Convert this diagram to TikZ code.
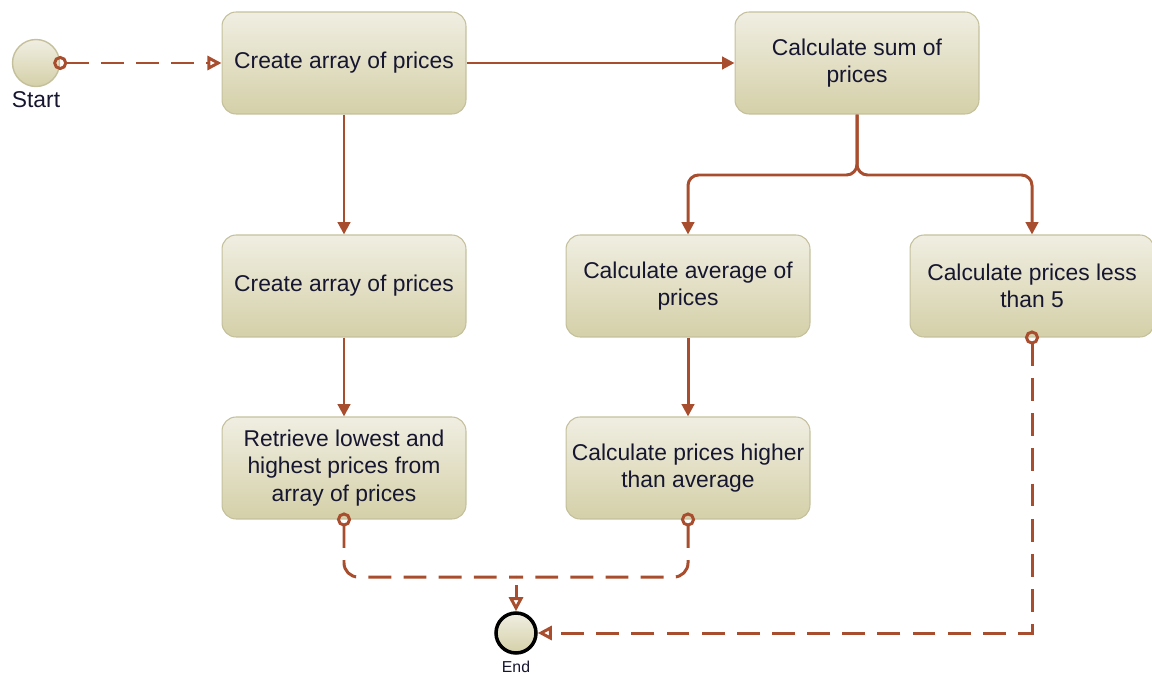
\documentclass[tikz,border=0pt]{standalone}
\usepackage{fontspec}
\setmainfont{Liberation Sans}
\usetikzlibrary{positioning,arrows.meta}

\definecolor{flowline}{RGB}{168,78,46}
\definecolor{boxtop}{RGB}{240,238,226}
\definecolor{boxbot}{RGB}{212,208,168}
\definecolor{boxrim}{RGB}{196,192,156}
\definecolor{boxtext}{RGB}{22,22,48}

\begin{document}
\begin{tikzpicture}[
  x=0.02cm, y=-0.02cm,
  font=\fontsize{13}{15.5}\selectfont,
  mybox/.style={draw=boxrim, line width=0.6pt, rounded corners=8pt,
    top color=boxtop, bottom color=boxbot, text=boxtext,
    minimum width=4.88cm, minimum height=2.04cm, align=center, inner sep=2pt},
  myevent/.style={circle, draw=boxrim, line width=0.8pt,
    top color=boxtop, bottom color=boxbot, minimum size=0.94cm, inner sep=0pt},
  flow/.style={draw=flowline, line width=1.7pt, -{Triangle[length=7pt,width=7pt]}},
  msg/.style={draw=flowline, line width=1.7pt, dash pattern=on 13pt off 7pt,
    shorten <=-4pt,
    {Circle[open,length=8pt,width=8pt]}-{Triangle[open,length=8pt,width=8pt]}}
]
\useasboundingbox (0,0) rectangle (1152,679);

\node[myevent] (start) at (36,63) {};
\node[below=-1pt of start, text=boxtext] (startlbl) {Start};

\node[mybox] (create) at (344,63) {Create array of prices};
\node[mybox] (sum) at (857,63) {Calculate sum of\\prices};
\node[mybox] (create2) at (344,286) {Create array of prices};
\node[mybox] (avg) at (688,286) {Calculate average of\\prices};
\node[mybox] (less) at (1032,286) {Calculate prices less\\than 5};
\node[mybox] (minmax) at (344,468) {Retrieve lowest and\\highest prices from\\array of prices};
\node[mybox] (higher) at (688,468) {Calculate prices higher\\than average};

\node[myevent, draw=black, line width=2pt, minimum size=0.8cm] (end) at (516,633) {};
\node[below=0pt of end, font=\fontsize{9}{11}\selectfont, text=boxtext] (endlbl) {End};

\coordinate (fork) at (857,175);
\coordinate (join) at (516,577);

% sequence flows
\draw[msg] (start) -- (create);
\draw[flow] (create) -- (sum);
\draw[flow] (create) -- (create2);
\draw[flow] (create2) -- (minmax);
\draw[flow] (avg) -- (higher);
\draw[flow, rounded corners=6pt] (sum.south) -- (fork) -| (avg.north);
\draw[flow, rounded corners=6pt] (sum.south) -- (fork) -| (less.north);

% towards the end event
\draw[msg, {Circle[open,length=8pt,width=8pt]}-, rounded corners=8pt] (minmax.south) |- (join);
\draw[msg, {Circle[open,length=8pt,width=8pt]}-, rounded corners=8pt] (higher.south) |- (join);
\draw[msg, -{Triangle[open,length=8pt,width=8pt]}, solid, shorten <=0pt] ([yshift=-0.16cm]join) -- (end.north);
\draw[msg] (less.south) |- (end.east);

\end{tikzpicture}
\end{document}
